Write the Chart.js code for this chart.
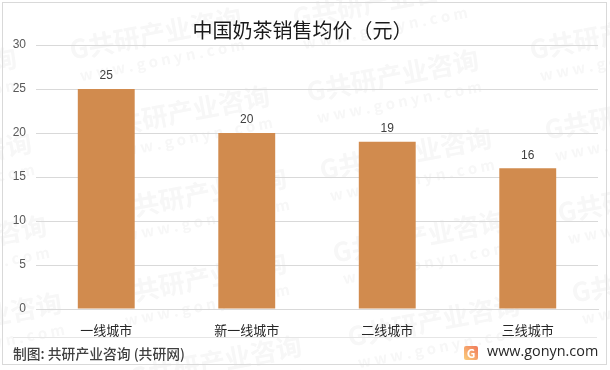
<!DOCTYPE html>
<html>
<head>
<meta charset="utf-8">
<style>
  body { margin: 0; background: #fff; }
  canvas { display: block; }
</style>
<script src="https://cdn.jsdelivr.net/npm/chart.js@4/dist/chart.umd.min.js"></script>
</head>
<body>
<canvas id="myChart" width="610" height="370"></canvas>
<script>
const categories = ["一线城市", "新一线城市", "二线城市", "三线城市"];
const prices = [25, 20, 19, 16];
const yTicks = [0, 5, 10, 15, 20, 25, 30];

const titleText = "中国奶茶销售均价（元）";
const sourceText = "制图: 共研产业咨询 (共研网)";
const siteText = "www.gonyn.com";
const markText = "G共研产业咨询";
const markSubText = "w w w . g o n y n . c o m";
// start of each repeated watermark
const markSpots = [
  [70, 50], [98, 128], [307, 92], [530, 50], [320, 170], [545, 130],
  [-155, 90], [-140, 175], [-125, 258], [-110, 335], [115, 210], [115, 295],
  [333, 253], [348, 337], [558, 213], [572, 293], [130, 378], [293, 18],
];

const cjk = '"Noto Sans CJK SC", sans-serif';

// Watermarks, frame and footer sit on the canvas behind the chart
const backdrop = {
  id: "backdrop",
  beforeDraw(chart) {
    const ctx = chart.ctx;
    ctx.save();
    ctx.fillStyle = "#fff";
    ctx.fillRect(0, 0, 610, 370);

    markSpots.forEach(([x, y]) => {
      ctx.save();
      ctx.translate(x, y);
      ctx.rotate(-0.19);
      ctx.fillStyle = "#f7f7f7";
      ctx.textBaseline = "middle";
      ctx.font = "bold 26px " + cjk;
      ctx.fillText(markText, 0, 0);
      ctx.font = "bold 15px " + cjk;
      ctx.fillText(markSubText, 5, 27);
      ctx.restore();
    });

    ctx.strokeStyle = "#d9d9d9";
    ctx.lineWidth = 1;
    ctx.strokeRect(2.5, 2.5, 604, 362);
    ctx.strokeStyle = "#e6e6e6";
    ctx.beginPath();
    ctx.moveTo(13, 337.5);
    ctx.lineTo(597, 337.5);
    ctx.stroke();

    ctx.textBaseline = "middle";
    ctx.fillStyle = "#404040";
    ctx.font = "500 13.8px " + cjk;
    ctx.fillText(sourceText, 13, 354);

    const logo = ctx.createLinearGradient(464, 360, 478, 346);
    logo.addColorStop(0, "#fbcf7c");
    logo.addColorStop(1, "#f0785a");
    ctx.fillStyle = logo;
    ctx.beginPath();
    ctx.roundRect(464, 346, 14, 14, 2);
    ctx.fill();
    ctx.fillStyle = "#fff";
    ctx.font = "bold 12px " + cjk;
    ctx.textAlign = "center";
    ctx.fillText("G", 471, 353);

    ctx.textAlign = "left";
    ctx.fillStyle = "#262626";
    ctx.font = '14.4px "Open Sans", sans-serif';
    ctx.fillText(siteText, 487, 352);
    ctx.restore();
  },
};

const barValues = {
  id: "barValues",
  afterDatasetsDraw(chart) {
    const ctx = chart.ctx;
    ctx.save();
    ctx.fillStyle = "#404040";
    ctx.font = '12px "Liberation Sans", sans-serif';
    ctx.textAlign = "center";
    ctx.textBaseline = "middle";
    chart.getDatasetMeta(0).data.forEach((bar, i) => {
      ctx.fillText(prices[i], bar.x, bar.y - 13);
    });
    ctx.restore();
  },
};

new Chart(document.getElementById("myChart"), {
  type: "bar",
  data: {
    labels: categories,
    datasets: [
      {
        data: prices,
        backgroundColor: "#d18b4e",
        categoryPercentage: 1,
        barPercentage: 0.405,
      },
    ],
  },
  options: {
    responsive: false,
    animation: false,
    // left padding plus the narrower y box nudges the title to the right
    layout: { padding: { left: 7, right: 12, top: 0, bottom: 0 } },
    plugins: {
      legend: { display: false },
      tooltip: { enabled: false },
      title: {
        display: true,
        text: titleText,
        color: "#1a1a1a",
        font: { family: cjk, size: 20, weight: "normal", lineHeight: 1.2 },
        padding: { top: 18, bottom: 3 },
      },
    },
    scales: {
      x: {
        grid: { display: false },
        border: { color: "#d9d9d9" },
        ticks: {
          color: "#262626",
          font: { family: cjk, size: 13 },
          padding: 5,
          maxRotation: 0,
        },
        afterFit(scale) {
          scale.height = 61;
        },
      },
      y: {
        min: 0,
        max: 30,
        afterBuildTicks(scale) {
          scale.ticks = yTicks.map((v) => ({ value: v }));
        },
        grid: { color: "#d9d9d9", drawTicks: false },
        border: { display: false },
        ticks: {
          color: "#595959",
          font: { family: '"Liberation Sans", sans-serif', size: 12 },
          padding: 10,
        },
        afterFit(scale) {
          scale.width = 29;
        },
      },
    },
  },
  plugins: [backdrop, barValues],
});
</script>
</body>
</html>
